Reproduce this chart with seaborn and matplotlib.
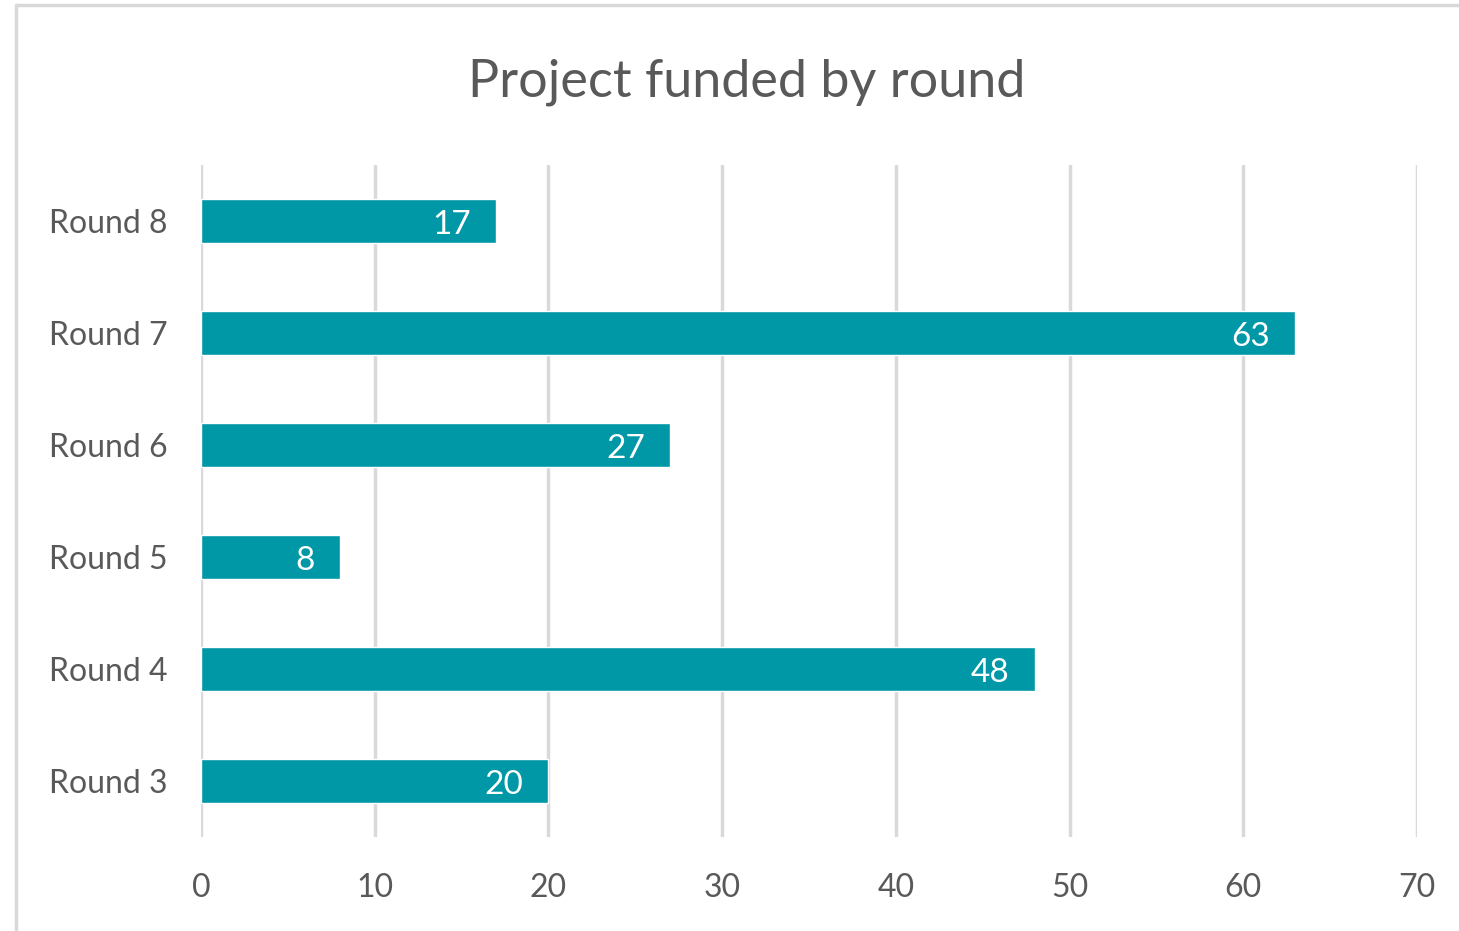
import matplotlib
matplotlib.use("Agg")
import matplotlib.pyplot as plt
import seaborn as sns
import pandas as pd
from matplotlib.lines import Line2D

# data
rounds = ['Round 8', 'Round 7', 'Round 6', 'Round 5', 'Round 4', 'Round 3']
projects = [17, 63, 27, 8, 48, 20]
x_ticks = [0, 10, 20, 30, 40, 50, 60, 70]

bar_color = '#0097A7'
text_gray = '#595959'
grid_gray = '#D9D9D9'

sns.set_theme(style='white')
plt.rcParams['font.family'] = ['Lato', 'DejaVu Sans']

df = pd.DataFrame({'Round': rounds, 'Projects': projects})

fig = plt.figure(figsize=(14.59, 9.31), dpi=100)
ax = fig.add_axes([0.1378, 0.1010, 0.8334, 0.7218])

sns.barplot(data=df, x='Projects', y='Round', color=bar_color, width=0.40,
            saturation=1, ax=ax, zorder=3)

ax.set_xlim(0, 70)
ax.set_xticks(x_ticks)
ax.grid(axis='x', color=grid_gray, linewidth=2.5, zorder=0)
ax.grid(axis='y', visible=False)
for s in ax.spines.values():
    s.set_visible(False)

ax.set_xlabel('')
ax.set_ylabel('')
ax.tick_params(axis='x', labelsize=23, labelcolor=text_gray, length=0, pad=26)
ax.tick_params(axis='y', labelsize=23, labelcolor=text_gray, length=0, pad=24)

# labels inside bar ends
for bar, v in zip(ax.patches, projects):
    y = bar.get_y() + bar.get_height() / 2
    ax.annotate(str(v), xy=(v, y), xytext=(-18, -3), textcoords='offset points',
                ha='right', va='center', color='white', fontsize=24, zorder=4)

fig.text(0.512, 0.912, 'Project funded by round', ha='center', va='center',
         fontsize=37.5, color=text_gray)

# screenshot frame
fig.add_artist(Line2D([16/1459, 1], [1 - 5/931, 1 - 5/931], color=grid_gray,
                      linewidth=2.5, transform=fig.transFigure))
fig.add_artist(Line2D([16/1459, 16/1459], [0, 1 - 5/931], color=grid_gray,
                      linewidth=2.5, transform=fig.transFigure))

fig.savefig('out.png', dpi=100)
